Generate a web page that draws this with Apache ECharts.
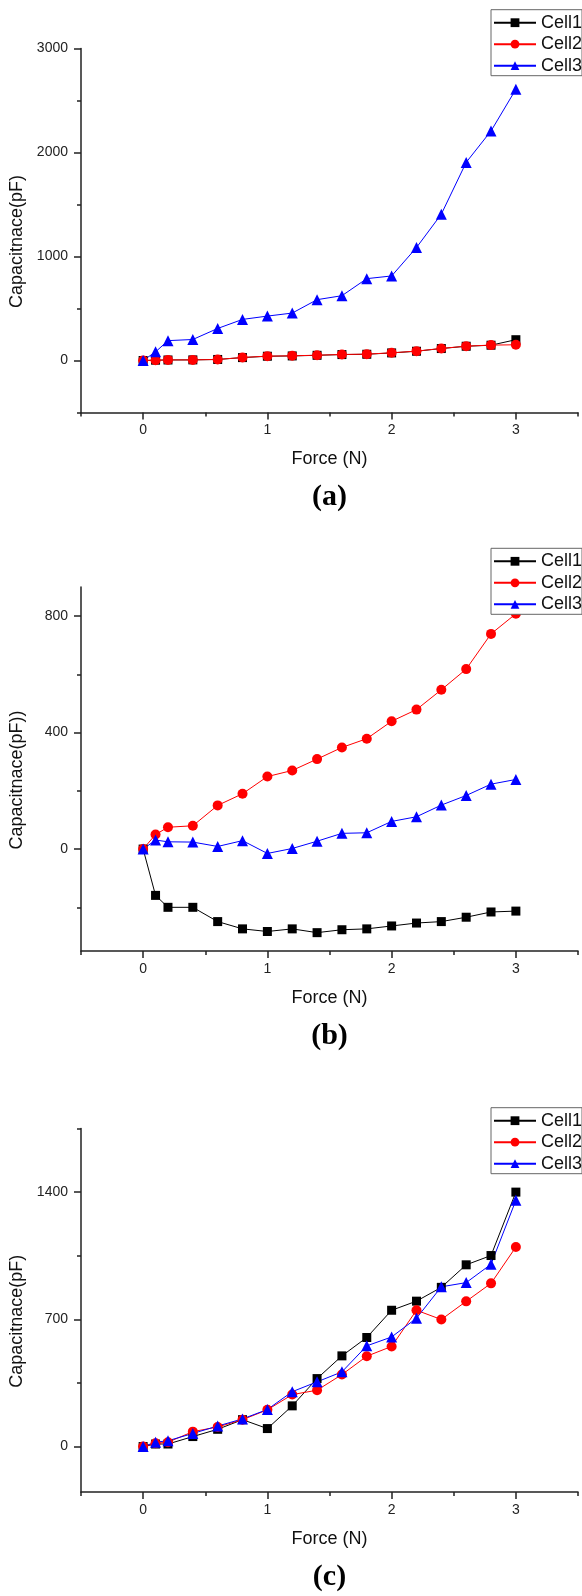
<!DOCTYPE html>
<html>
<head>
<meta charset="utf-8">
<script src="https://cdn.jsdelivr.net/npm/echarts@6/dist/echarts.min.js"></script>
<style>
html,body{margin:0;padding:0;background:#fff;}
#c{width:582px;height:1596px;}
</style>
</head>
<body>
<div id="c"></div>
<script>
// ---- data ----
const force = [0, 0.1, 0.2, 0.4, 0.6, 0.8, 1.0, 1.2, 1.4, 1.6, 1.8, 2.0, 2.2, 2.4, 2.6, 2.8, 3.0];
const seriesNames = ['Cell1', 'Cell2', 'Cell3'];

// panel (a)
const cellA1 = [0, 3, 5, 6, 10, 28, 41, 44, 50, 57, 60, 73, 89, 115, 137, 147, 200];
const cellA2 = [0, 3, 6, 6, 10, 29, 42, 45, 51, 58, 61, 74, 90, 116, 138, 148, 151];
const cellA3 = [0, 83, 191, 202, 308, 395, 427, 456, 585, 623, 787, 813, 1086, 1407, 1905, 2207, 2608];

// panel (b)
const cellB1 = [0, -159, -200, -200, -249, -274, -283, -274, -287, -277, -274, -264, -254, -249, -234, -216, -213];
const cellB2 = [0, 50, 75, 80, 150, 190, 249, 270, 309, 349, 379, 439, 479, 547, 618, 739, 808];
const cellB3 = [0, 31, 25, 24, 9, 29, -15, 2, 27, 54, 56, 95, 111, 151, 184, 223, 239];

// panel (c)
const cellC1 = [0, 14, 14, 55, 95, 148, 99, 224, 374, 499, 600, 750, 800, 876, 1000, 1051, 1400];
const cellC2 = [0, 18, 24, 82, 108, 148, 202, 286, 310, 396, 497, 551, 750, 699, 799, 898, 1098];
const cellC3 = [0, 24, 32, 72, 113, 152, 204, 302, 356, 411, 554, 603, 706, 879, 902, 1003, 1355];

// ticks
const xMajorTicks = [0, 1, 2, 3];
const xMinorTicks = [-0.5, 0.5, 1.5, 2.5, 3.5];
const yMajorA = [0, 1000, 2000, 3000];
const yMinorA = [-500, 500, 1500, 2500];
const yMajorB = [0, 400, 800];
const yMinorB = [-200, 200, 600];
const yMajorC = [0, 700, 1400];
const yMinorC = [350, 1050, 1750];

const yNames = ['Capacitnace(pF)', 'Capacitnace(pF))', 'Capacitnace(pF)'];
const captions = ['(a)', '(b)', '(c)'];
const xName = 'Force (N)';

// ---- layout / style ----
const FONT = 'Arial, "Liberation Sans", sans-serif';
const panels = [
  {top: 48.5, height: 364, min: -500, max: 3000, major: yMajorA, minor: yMinorA, cells: [cellA1, cellA2, cellA3], legendTop: 9.7},
  {top: 587, height: 364, min: -350, max: 900, major: yMajorB, minor: yMinorB, cells: [cellB1, cellB2, cellB3], legendTop: 548.3},
  {top: 1128.5, height: 363.5, min: -250, max: 1750, major: yMajorC, minor: yMinorC, cells: [cellC1, cellC2, cellC3], legendTop: 1107.7}
];
const symbols = ['rect', 'circle', 'triangle'];
const symSizes = [9, 10, 11];
const colors = ['#000000', '#ff0000', '#0000ff'];
const axisColor = '#222';
const plain = v => String(v);

const grid = [], xAxis = [], yAxis = [], series = [], legend = [], graphic = [];

panels.forEach((p, i) => {
  grid.push({left: 81, width: 497, top: p.top, height: p.height, outerBoundsMode: 'none'});
  // main x axis
  xAxis.push({
    type: 'value', gridIndex: i, min: -0.5, max: 3.5, position: 'bottom',
    axisLine: {show: true, onZero: false, lineStyle: {color: axisColor, width: 1.5}},
    axisTick: {show: true, length: 7, customValues: xMajorTicks, lineStyle: {color: axisColor, width: 1.5}},
    axisLabel: {show: true, customValues: xMajorTicks, formatter: plain, margin: 11, fontSize: 14, color: axisColor, fontFamily: FONT},
    splitLine: {show: false},
    name: xName, nameLocation: 'middle', nameGap: 38,
    nameTextStyle: {fontSize: 18, color: '#111', fontFamily: FONT}
  });
  // minor x axis
  xAxis.push({
    type: 'value', gridIndex: i, min: -0.5, max: 3.5, position: 'bottom',
    axisLine: {show: false, onZero: false},
    axisTick: {show: true, length: 4, customValues: xMinorTicks, lineStyle: {color: axisColor, width: 1.5}},
    axisLabel: {show: false},
    splitLine: {show: false}
  });
  // main y axis
  yAxis.push({
    type: 'value', gridIndex: i, min: p.min, max: p.max, position: 'left',
    axisLine: {show: true, onZero: false, lineStyle: {color: axisColor, width: 1.5}},
    axisTick: {show: true, length: 7, customValues: p.major, lineStyle: {color: axisColor, width: 1.5}},
    axisLabel: {show: true, customValues: p.major, formatter: plain, margin: 13, fontSize: 14, color: axisColor, fontFamily: FONT},
    splitLine: {show: false}
  });
  // minor y axis
  yAxis.push({
    type: 'value', gridIndex: i, min: p.min, max: p.max, position: 'left',
    axisLine: {show: false, onZero: false},
    axisTick: {show: true, length: 4, customValues: p.minor, lineStyle: {color: axisColor, width: 1.5}},
    axisLabel: {show: false},
    splitLine: {show: false}
  });

  p.cells.forEach((arr, k) => {
    series.push({
      type: 'line', name: seriesNames[k],
      xAxisIndex: 2 * i, yAxisIndex: 2 * i,
      data: force.map((f, j) => [f, arr[j]]),
      symbol: symbols[k], symbolSize: symSizes[k], showAllSymbol: true,
      itemStyle: {color: colors[k]},
      lineStyle: {color: colors[k], width: 1},
      emphasis: {disabled: true},
      animation: false, clip: false
    });
  });

  legend.push({
    orient: 'vertical', left: 491, top: p.legendTop,
    itemWidth: 42, itemHeight: 11, itemGap: 3.5,
    padding: [4, 0, 1, 2],
    borderColor: '#666', borderWidth: 1, backgroundColor: '#fff',
    selectedMode: false,
    textStyle: {fontSize: 18, color: '#111', fontFamily: FONT, lineHeight: 18},
    data: seriesNames
  });

  const axisBottom = p.top + p.height;
  graphic.push({
    type: 'text', x: 17.5, y: (p.top + axisBottom) / 2 + 11, rotation: Math.PI / 2,
    style: {text: yNames[i], font: '18px ' + FONT, fill: '#111',
      align: 'center', verticalAlign: 'middle', textAlign: 'center', textVerticalAlign: 'middle'}
  });
  graphic.push({
    type: 'text', x: 329.5, y: axisBottom + 85,
    style: {text: captions[i], font: 'bold 30px "Liberation Serif", "Times New Roman", serif', fill: '#000',
      align: 'center', verticalAlign: 'middle', textAlign: 'center', textVerticalAlign: 'middle'}
  });
});

const chart = echarts.init(document.getElementById('c'), null, {renderer: 'canvas'});
chart.setOption({
  backgroundColor: '#fff',
  animation: false,
  grid, xAxis, yAxis, series, legend, graphic
});
</script>
</body>
</html>
